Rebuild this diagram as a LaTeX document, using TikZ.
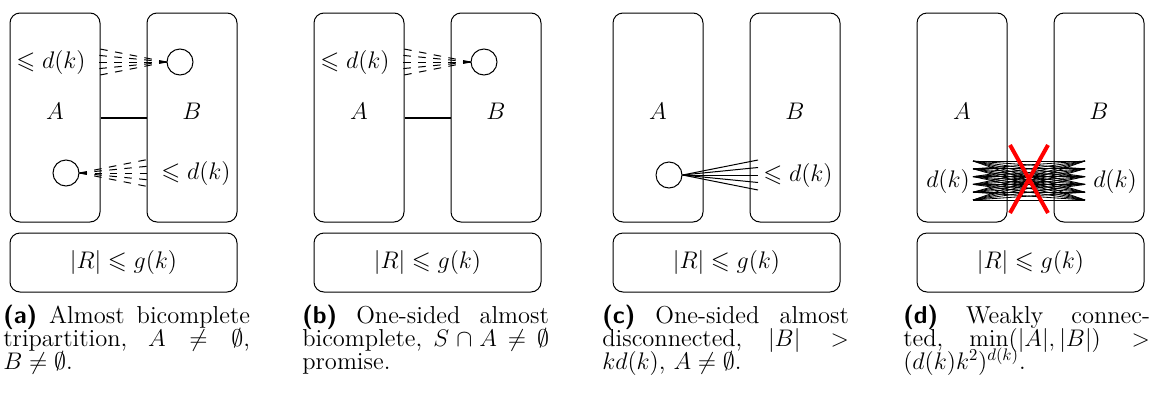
\documentclass[tikz,border=0pt]{standalone}
\usepackage{amsmath}
\usepackage{amssymb}
\usepackage{tikz}
\usetikzlibrary{calc}

\begin{document}
\begin{tikzpicture}[x=0.6pt,y=-0.6pt]
                      \tikzstyle{part}=[draw,rounded corners=6pt,line width=0.6pt,minimum width=54pt,minimum height=125.4pt,inner sep=0pt]
                      \tikzstyle{rest}=[draw,rounded corners=6pt,line width=0.6pt,minimum width=136.2pt,minimum height=35.4pt,inner sep=0pt,font=\fontsize{14.7}{17}\selectfont]
                      \tikzstyle{vert}=[circle,draw,line width=0.6pt,minimum size=15.6pt,inner sep=0pt]
                      \tikzstyle{lbl}=[inner sep=0pt,font=\fontsize{14.7}{17}\selectfont]
                      \tikzstyle{subcap}=[anchor=north west,inner sep=0pt,text width=148pt,align=justify,font={\fontsize{14.7}{13.6}\selectfont\lineskiplimit=-50pt}]
                      \tikzstyle{bundle}=[line width=0.6pt,dash pattern=on 4.5pt off 4.5pt]
                      \useasboundingbox (0,0) rectangle (1162,394);
                      % (a)
                      \begin{scope}[shift={(0,0)}]
                        \node[part] (aA) at (55,117.5) {};
                        \node[part] (aB) at (192,117.5) {};
                        \node[rest] (aR) at (123.5,262.5) {$|R| \leqslant g(k)$};
                        \node[lbl] at (55,111) {$A$};
                        \node[lbl] at (192,111) {$B$};
                        \draw[line width=1.2pt] (aA.east) -- (aB.west);
                        \node[vert] (aV1) at (180,62) {};
                        \node[vert] (aV2) at (66,173) {};
                        \node[lbl] (aL1) at (51,62) {$\leqslant d(k)$};
                        \node[lbl] (aL2) at (196,173) {$\leqslant d(k)$};
                        \foreach \i in {0,...,4} {
                          \coordinate (aE\i) at (95,48+7*\i);
                          \coordinate (aF\i) at (150,159+7*\i);
                          \draw[bundle] (aV1.west) -- (aE\i);
                          \draw[bundle] (aV2.east) -- (aF\i);
                        }
                      \end{scope}
                      \node[subcap] (capa) at (3,305) {\textsf{\textbf{(a)}} Almost bicomplete\linebreak tripartition, $A \neq \emptyset$,\linebreak $B \neq \emptyset$.};
                      % (b)
                      \begin{scope}[shift={(304,0)}]
                        \node[part] (bA) at (55,117.5) {};
                        \node[part] (bB) at (192,117.5) {};
                        \node[rest] (bR) at (123.5,262.5) {$|R| \leqslant g(k)$};
                        \node[lbl] at (55,111) {$A$};
                        \node[lbl] at (192,111) {$B$};
                        \draw[line width=1.2pt] (bA.east) -- (bB.west);
                        \node[vert] (bV) at (180,62) {};
                        \node[lbl] (bL) at (51,62) {$\leqslant d(k)$};
                        \foreach \i in {0,...,4} {
                          \coordinate (bE\i) at (95,48+7*\i);
                          \draw[bundle] (bV.west) -- (bE\i);
                        }
                      \end{scope}
                      \node[subcap] (capb) at (302,305) {\textsf{\textbf{(b)}} One-sided almost\linebreak bicomplete, $S \cap A \neq \emptyset$\linebreak promise.};
                      % (c)
                      \begin{scope}[shift={(603,0)}]
                        \node[part] (cA) at (55,117.5) {};
                        \node[part] (cB) at (192,117.5) {};
                        \node[rest] (cR) at (123.5,262.5) {$|R| \leqslant g(k)$};
                        \node[lbl] at (55,111) {$A$};
                        \node[lbl] at (192,111) {$B$};
                        \node[vert] (cV) at (66,175) {};
                        \node[lbl] (cL) at (195,175) {$\leqslant d(k)$};
                        \foreach \i in {0,...,4} {
                          \coordinate (cE\i) at (155,160+7.5*\i);
                          \draw[line width=0.6pt] (cV.east) -- (cE\i);
                        }
                      \end{scope}
                      \node[subcap] (capc) at (602,305) {\textsf{\textbf{(c)}} One-sided almost\linebreak disconnected, $|B| >$\linebreak $kd(k)$, $A \neq \emptyset$.};
                      % (d)
                      \begin{scope}[shift={(907,0)}]
                        \node[part] (dA) at (55,117.5) {};
                        \node[part] (dB) at (192,117.5) {};
                        \node[rest] (dR) at (123.5,262.5) {$|R| \leqslant g(k)$};
                        \node[lbl] at (55,111) {$A$};
                        \node[lbl] at (192,111) {$B$};
                        \node[lbl] (dL1) at (41,181) {$d(k)$};
                        \node[lbl] (dL2) at (208,181) {$d(k)$};
                        \foreach \i in {0,...,5} {
                          \coordinate (dP\i) at (66,161+7.8*\i);
                          \coordinate (dQ\i) at (178,161+7.8*\i);
                        }
                        \foreach \i in {0,...,5}
                          \foreach \j in {0,...,5}
                            \draw[line width=0.5pt] (dP\i) -- (dQ\j);
                        \coordinate (dX1) at (103,145);
                        \coordinate (dX2) at (141,213);
                        \coordinate (dX3) at (141,145);
                        \coordinate (dX4) at (103,213);
                        \draw[red,line width=2.4pt] (dX1) -- (dX2);
                        \draw[red,line width=2.4pt] (dX3) -- (dX4);
                      \end{scope}
                      \node[subcap] (capd) at (903,305) {\textsf{\textbf{(d)}} Weakly connec-\linebreak ted, $\min(|A|,|B|) >$\linebreak $(d(k)k^2)^{d(k)}$.};
                  \end{tikzpicture}
\end{document}
